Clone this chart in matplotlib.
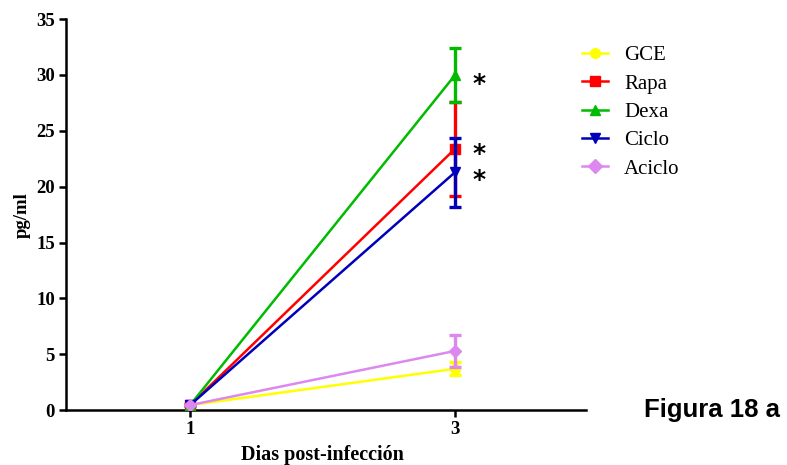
import matplotlib
matplotlib.use("Agg")
import matplotlib.pyplot as plt
from matplotlib.lines import Line2D

days = [1, 3]
day_labels = ["1", "3"]
series = ["GCE", "Rapa", "Dexa", "Ciclo", "Aciclo"]
gce = [0.45, 3.7]
gce_err = [0.0, 0.6]
rapa = [0.45, 23.4]
rapa_err = [0.0, 4.2]
dexa = [0.45, 30.0]
dexa_err = [0.0, 2.4]
ciclo = [0.45, 21.3]
ciclo_err = [0.0, 3.1]
aciclo = [0.45, 5.3]
aciclo_err = [0.0, 1.4]
signif = [("Dexa", 30.0), ("Rapa", 23.4), ("Ciclo", 21.3)]

colors = ["#ffff00", "#ff0000", "#00bb00", "#0000bb", "#dd88ee"]
markers = ["o", "s", "^", "v", "D"]
values = [gce, rapa, dexa, ciclo, aciclo]
errors = [gce_err, rapa_err, dexa_err, ciclo_err, aciclo_err]

plt.rcParams['font.family'] = ['Liberation Serif', 'DejaVu Serif']
fig = plt.figure(figsize=(7.87, 4.65), dpi=100)
ax = fig.add_axes([0.0839, 0.118, 0.661, 0.841])

handles = []
for i, (name, v, e, c, m) in enumerate(zip(series, values, errors, colors, markers)):
    ms = 7 if m != "D" else 6.5
    ax.errorbar(days, v, yerr=e, color=c, marker=m, markersize=ms, lw=1.8,
                elinewidth=2.4, capsize=4.5, capthick=2.4, zorder=3 + i)
    handles.append(Line2D([0], [0], color=c, marker=m, markersize=7, lw=1.8))

offsets = {"Dexa": -0.8, "Rapa": -0.5, "Ciclo": -0.7}
for name, val in signif:
    ax.text(3.18, val + offsets[name], "*", fontsize=18, fontweight='bold',
            ha='center', va='center', family='DejaVu Sans')

ax.set_xlim(0.064, 3.989)
ax.set_ylim(0, 35)
ax.set_xticks(days)
ax.set_xticklabels(day_labels)
ax.set_yticks(range(0, 36, 5))
for s in ["top", "right"]:
    ax.spines[s].set_visible(False)
for s in ["left", "bottom"]:
    ax.spines[s].set_linewidth(1.8)
ax.tick_params(width=1.8, length=5, labelsize=13.5, pad=3)
for lab in ax.get_xticklabels() + ax.get_yticklabels():
    lab.set_fontweight('bold')
ax.set_ylabel("pg/ml", fontsize=13.5, fontweight='bold', labelpad=4)
fig.text(0.41, (465 - 455) / 465, "Dias post-infección", fontsize=14.5,
         fontweight='bold', ha='center', va='center')

fig.legend(handles, series, loc='upper left', bbox_to_anchor=(0.716, 0.942),
           frameon=False, fontsize=15, handlelength=1.25, labelspacing=0.42,
           handletextpad=0.75)

fig.text(0.818, (465 - 410) / 465, "Figura 18 a", fontsize=18.5, fontweight='bold',
         family='Liberation Sans', va='center', ha='left')

fig.savefig("out.png", dpi=100)
